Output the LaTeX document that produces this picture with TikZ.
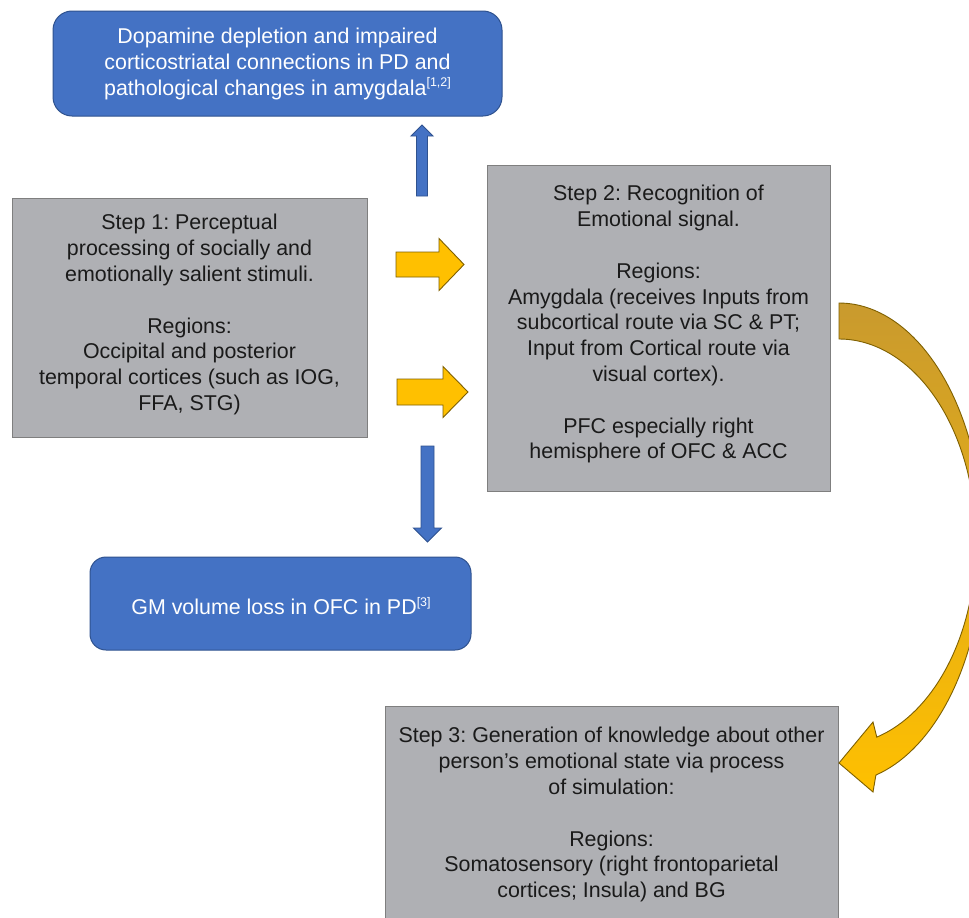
\documentclass[tikz,border=0pt]{standalone}
\usepackage{fontspec}
\setmainfont{Liberation Sans}
\frenchspacing
\definecolor{boxblue}{HTML}{4472C4}
\definecolor{blueedge}{HTML}{2F528F}
\definecolor{boxgray}{HTML}{AFB0B4}
\definecolor{grayedge}{HTML}{7F7F7F}
\definecolor{arrowyellow}{HTML}{FFC000}
\definecolor{yellowedge}{HTML}{7F6000}
\definecolor{darkgold}{HTML}{C99A2E}
\definecolor{txtdark}{HTML}{1A1A1A}
\newcommand\supref[1]{\raisebox{8.5pt}{\fontsize{12.5}{12.5}\selectfont #1}}
\newcommand\firstline{\rule{0pt}{20pt}}
\tikzset{
  txt/.style={font=\fontsize{21.4}{25.8}\selectfont, align=center, inner sep=0pt, anchor=north},
  graybox/.style={draw=grayedge, fill=boxgray, line width=1pt},
  bluebox/.style={draw=blueedge, fill=boxblue, line width=1pt},
  bluearrow/.style={draw=blueedge, fill=boxblue, line width=0.9pt, line join=miter},
  yellowarrow/.style={draw=yellowedge, fill=arrowyellow, line width=0.9pt, line join=miter},
  curvearrow/.style={draw=yellowedge, top color=darkgold, middle color=darkgold!60!arrowyellow, bottom color=arrowyellow, line width=0.9pt, line join=miter}
}
\begin{document}
\begin{tikzpicture}[x=1pt,y=-1pt]
\useasboundingbox[fill=white] (0,0) rectangle (969,918);

% boxes
\draw[bluebox, rounded corners=19pt] (53,11) rectangle (502,116);
\node[txt, text=white] (pdt) at (277.5,23.5) {\firstline Dopamine depletion and impaired\\corticostriatal connections in PD and\\pathological changes in amygdala\supref{[1,2]}};

\draw[graybox] (12,198) rectangle (367,437);
\node[txt, text=txtdark] (s1t) at (189.5,209.7) {\firstline Step 1: Perceptual\\processing of socially and\\emotionally salient stimuli.\\[25.8pt]Regions:\\Occipital and posterior\\temporal cortices (such as IOG,\\FFA, STG)};

\draw[graybox] (487,165) rectangle (830,491);
\node[txt, text=txtdark] (s2t) at (658.5,180.7) {\firstline Step 2: Recognition of\\Emotional signal.\\[25.8pt]Regions:\\Amygdala (receives Inputs from\\subcortical route via SC \& PT;\\Input from Cortical route via\\visual cortex).\\[25.8pt]PFC especially right\\hemisphere of OFC \& ACC};

\draw[bluebox, rounded corners=16pt] (90,557) rectangle (471,650);
\node[txt, text=white] (gmt) at (281,594.7) {\firstline GM volume loss in OFC in PD\supref{[3]}};

\draw[graybox] (385,706) rectangle (838,930);
\node[txt, text=txtdark] (s3t) at (611.5,722.7) {\firstline Step 3: Generation of knowledge about other\\person’s emotional state via process\\of simulation:\\[25.8pt]Regions:\\Somatosensory (right frontoparietal\\cortices; Insula) and BG};

% blue block arrows
\draw[bluearrow] (416.5,196) -- (416.5,136) -- (411,136) -- (422,125) -- (433,136) -- (427.5,136) -- (427.5,196) -- cycle;
\draw[bluearrow] (421,446) -- (434,446) -- (434,528) -- (441.5,528) -- (427.5,542) -- (413.5,528) -- (421,528) -- cycle;

% yellow block arrows
\draw[yellowarrow] (396,252) -- (439,252) -- (439,238.5) -- (464,264.5) -- (439,290.5) -- (439,277) -- (396,277) -- cycle;
\draw[yellowarrow] (397,379) -- (443,379) -- (443,366.5) -- (468,392) -- (443,417.5) -- (443,405) -- (397,405) -- cycle;

% curved arrow
\draw[curvearrow] plot[smooth, domain=90:-75.2, samples=70] ({839+144.5*cos(\x)},{543-240*sin(\x)})
  -- (873,792) -- (839,763) -- (873,722)
  -- plot[smooth, domain=-74:90, samples=70] ({839+137*cos(\x)},{542-203*sin(\x)}) -- cycle;
\end{tikzpicture}
\end{document}
